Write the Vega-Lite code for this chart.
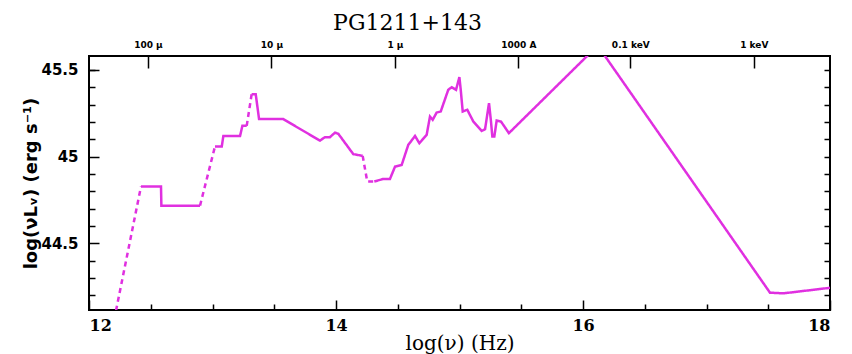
{
  "$schema": "https://vega.github.io/schema/vega-lite/v6.json",
  "width": 741,
  "height": 254,
  "autosize": {"type": "none"},
  "padding": {"left": 89, "top": 56, "right": 22, "bottom": 44},
  "background": "white",
  "config": {
    "view": {"stroke": "black", "strokeWidth": 2},
    "axis": {"domain": false, "grid": false, "tickColor": "black", "tickWidth": 1.5, "labelFont": "DejaVu Serif", "labelFontWeight": "bold", "labelColor": "black", "titleFont": "DejaVu Serif", "titleColor": "black"}
  },
  "title": {"text": "PG1211+143", "font": "DejaVu Serif", "fontSize": 22, "fontWeight": "normal", "color": "black", "anchor": "middle", "frame": "group", "dx": -52, "offset": 5},
  "data": {"values": [
    {"seg": 1, "style": "dashed", "x": 12.19, "y": 44.01},
    {"seg": 1, "style": "dashed", "x": 12.421, "y": 44.827},
    {"seg": 2, "style": "solid", "x": 12.421, "y": 44.827},
    {"seg": 2, "style": "solid", "x": 12.583, "y": 44.827},
    {"seg": 2, "style": "solid", "x": 12.586, "y": 44.717},
    {"seg": 2, "style": "solid", "x": 12.899, "y": 44.717},
    {"seg": 3, "style": "dashed", "x": 12.899, "y": 44.717},
    {"seg": 3, "style": "dashed", "x": 13.02, "y": 45.058},
    {"seg": 4, "style": "solid", "x": 13.02, "y": 45.058},
    {"seg": 4, "style": "solid", "x": 13.075, "y": 45.058},
    {"seg": 4, "style": "solid", "x": 13.088, "y": 45.119},
    {"seg": 4, "style": "solid", "x": 13.223, "y": 45.119},
    {"seg": 4, "style": "solid", "x": 13.242, "y": 45.177},
    {"seg": 4, "style": "solid", "x": 13.277, "y": 45.177},
    {"seg": 5, "style": "dashed", "x": 13.277, "y": 45.177},
    {"seg": 5, "style": "dashed", "x": 13.317, "y": 45.36},
    {"seg": 6, "style": "solid", "x": 13.317, "y": 45.36},
    {"seg": 6, "style": "solid", "x": 13.35, "y": 45.36},
    {"seg": 6, "style": "solid", "x": 13.377, "y": 45.216},
    {"seg": 6, "style": "solid", "x": 13.573, "y": 45.216},
    {"seg": 6, "style": "solid", "x": 13.87, "y": 45.092},
    {"seg": 6, "style": "solid", "x": 13.911, "y": 45.112},
    {"seg": 6, "style": "solid", "x": 13.951, "y": 45.112},
    {"seg": 6, "style": "solid", "x": 13.992, "y": 45.138},
    {"seg": 6, "style": "solid", "x": 14.019, "y": 45.131},
    {"seg": 6, "style": "solid", "x": 14.14, "y": 45.014},
    {"seg": 6, "style": "solid", "x": 14.216, "y": 45.004},
    {"seg": 7, "style": "dashed", "x": 14.216, "y": 45.004},
    {"seg": 7, "style": "dashed", "x": 14.253, "y": 44.856},
    {"seg": 7, "style": "dashed", "x": 14.31, "y": 44.856},
    {"seg": 8, "style": "solid", "x": 14.31, "y": 44.856},
    {"seg": 8, "style": "solid", "x": 14.383, "y": 44.871},
    {"seg": 8, "style": "solid", "x": 14.437, "y": 44.871},
    {"seg": 8, "style": "solid", "x": 14.478, "y": 44.942},
    {"seg": 8, "style": "solid", "x": 14.532, "y": 44.952},
    {"seg": 8, "style": "solid", "x": 14.585, "y": 45.067},
    {"seg": 8, "style": "solid", "x": 14.64, "y": 45.119},
    {"seg": 8, "style": "solid", "x": 14.675, "y": 45.077},
    {"seg": 8, "style": "solid", "x": 14.734, "y": 45.125},
    {"seg": 8, "style": "solid", "x": 14.761, "y": 45.231},
    {"seg": 8, "style": "solid", "x": 14.783, "y": 45.212},
    {"seg": 8, "style": "solid", "x": 14.815, "y": 45.254},
    {"seg": 8, "style": "solid", "x": 14.848, "y": 45.26},
    {"seg": 8, "style": "solid", "x": 14.909, "y": 45.385},
    {"seg": 8, "style": "solid", "x": 14.937, "y": 45.4},
    {"seg": 8, "style": "solid", "x": 14.972, "y": 45.385},
    {"seg": 8, "style": "solid", "x": 14.999, "y": 45.458},
    {"seg": 8, "style": "solid", "x": 15.01, "y": 45.385},
    {"seg": 8, "style": "solid", "x": 15.026, "y": 45.26},
    {"seg": 8, "style": "solid", "x": 15.063, "y": 45.27},
    {"seg": 8, "style": "solid", "x": 15.112, "y": 45.202},
    {"seg": 8, "style": "solid", "x": 15.18, "y": 45.148},
    {"seg": 8, "style": "solid", "x": 15.207, "y": 45.158},
    {"seg": 8, "style": "solid", "x": 15.239, "y": 45.308},
    {"seg": 8, "style": "solid", "x": 15.255, "y": 45.202},
    {"seg": 8, "style": "solid", "x": 15.266, "y": 45.115},
    {"seg": 8, "style": "solid", "x": 15.282, "y": 45.115},
    {"seg": 8, "style": "solid", "x": 15.301, "y": 45.208},
    {"seg": 8, "style": "solid", "x": 15.336, "y": 45.202},
    {"seg": 8, "style": "solid", "x": 15.4, "y": 45.135},
    {"seg": 8, "style": "solid", "x": 16.119, "y": 45.64},
    {"seg": 8, "style": "solid", "x": 17.514, "y": 44.215},
    {"seg": 8, "style": "solid", "x": 17.622, "y": 44.211},
    {"seg": 8, "style": "solid", "x": 18.0, "y": 44.243}
  ]},
  "layer": [
    {
      "mark": {"type": "line", "color": "#e030e0", "strokeWidth": 2.5, "clip": true},
      "encoding": {
        "x": {"field": "x", "type": "quantitative", "scale": {"domain": [12, 18], "nice": false, "zero": false},
              "axis": {"orient": "bottom", "values": [12, 14, 16, 18], "tickSize": -10, "labelPadding": 17, "labelFontSize": 16, "format": "d", "title": "log(ν) (Hz)", "titleFontSize": 20, "titleFontWeight": "normal", "titlePadding": 0}},
        "y": {"field": "y", "type": "quantitative", "scale": {"domain": [44.115, 45.58], "nice": false, "zero": false},
              "axis": {"orient": "left", "values": [44.5, 45, 45.5], "tickSize": -10, "labelPadding": 21, "labelFont": "DejaVu Sans", "labelFontSize": 15, "format": ".3~r", "title": "log(νLᵥ) (erg s⁻¹)", "titleFont": "DejaVu Sans", "titleFontSize": 18, "titleFontWeight": "bold", "titlePadding": 0}},
        "detail": {"field": "seg", "type": "nominal"},
        "strokeDash": {"field": "style", "type": "nominal", "scale": {"domain": ["solid", "dashed"], "range": [[1, 0], [5, 4]]}, "legend": null}
      }
    },
    {
      "mark": {"type": "line", "opacity": 0, "clip": true},
      "encoding": {
        "x": {"field": "x", "type": "quantitative", "scale": {"domain": [12, 18], "nice": false, "zero": false},
              "axis": {"orient": "bottom", "values": [12.5, 13, 13.5, 14.5, 15, 15.5, 16.5, 17, 17.5], "tickSize": -6, "labels": false, "title": null}},
        "y": {"field": "y", "type": "quantitative", "scale": {"domain": [44.115, 45.58], "nice": false, "zero": false},
              "axis": {"orient": "left", "values": [44.2, 44.3, 44.4, 44.6, 44.7, 44.8, 44.9, 45.1, 45.2, 45.3, 45.4, 45.5], "tickSize": -6, "labels": false, "title": null}},
        "detail": {"field": "seg", "type": "nominal"}
      }
    },
    {
      "mark": {"type": "line", "opacity": 0, "clip": true},
      "encoding": {
        "x": {"field": "x", "type": "quantitative", "scale": {"domain": [12, 18], "nice": false, "zero": false},
              "axis": {"orient": "top", "values": [12.477, 13.477, 14.477, 15.477, 16.383, 17.383], "tickSize": -12, "labelPadding": 19, "labelFont": "DejaVu Sans", "labelFontSize": 9,
                       "labelExpr": "datum.value < 13 ? '100 μ' : datum.value < 14 ? '10 μ' : datum.value < 15 ? '1 μ' : datum.value < 16 ? '1000 A' : datum.value < 17 ? '0.1 keV' : '1 keV'", "title": null}},
        "y": {"field": "y", "type": "quantitative", "scale": {"domain": [44.115, 45.58], "nice": false, "zero": false},
              "axis": {"orient": "right", "values": [44.2, 44.3, 44.4, 44.5, 44.6, 44.7, 44.8, 44.9, 45, 45.1, 45.2, 45.3, 45.4, 45.5], "tickSize": -6, "labels": false, "title": null}},
        "detail": {"field": "seg", "type": "nominal"}
      }
    }
  ],
  "resolve": {"axis": {"x": "independent", "y": "independent"}}
}
